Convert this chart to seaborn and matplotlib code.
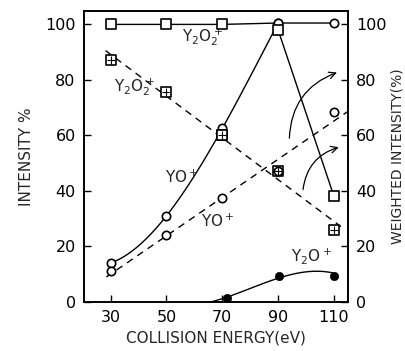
import numpy as np
import pandas as pd
import seaborn as sns
import matplotlib
matplotlib.use("Agg")
import matplotlib.pyplot as plt

# ---- data ----
energy = [30, 50, 70, 90, 110]

# solid top line (Y2O2+ weighted) at 100
top_sq_x = [30, 50, 70]
top_sq_y = [100, 100, 100]
top_ci_x = [90, 110]
top_ci_y = [100.5, 100.5]

# solid YO+ curve (circles)
yo_solid_x = [30, 50, 70, 90]
yo_solid_y = [14, 31, 62.5, 100.5]

# solid squares (weighted) 70, 90, 110
wsq_x = [70, 90, 110]
wsq_y = [60, 98, 38]

# dashed Y2O2+ (squares)
y2o2_dash = [87, 75.5, 60, 47, 26]
y2o2_span = [28.2, 112.5]
# dashed YO+ (circles)
yo_dash = [11, 24, 37.5, 47, 68.5]
yo_span = [28.5, 115]

# Y2O+ (filled circles)
y2o_x = [71.6, 90.4, 110]
y2o_y = [1.4, 9.4, 9.4]
y2o_curve_x = [65, 72, 80, 90, 100, 110]
y2o_curve_y = [0, 1.3, 5.0, 9.0, 10.3, 10.5]

yticks = [0, 20, 40, 60, 80, 100]

sns.set_theme(style="ticks")
plt.rcParams["font.family"] = ["DejaVu Sans"]
plt.rcParams["mathtext.fontset"] = "dejavusans"

fig = plt.figure(figsize=(4.06, 3.51), dpi=100)
ax = fig.add_axes([0.207, 0.140, 0.650, 0.830])
ax.set_xlim(20.5, 115)
ax.set_ylim(0, 105)

k = "black"
ms_c = 6
ms_s = 6.5

# top line
sns.lineplot(x=top_sq_x + top_ci_x, y=top_sq_y + top_ci_y, ax=ax, color=k, lw=1.0)
sns.scatterplot(x=top_sq_x, y=top_sq_y, ax=ax, marker="s", s=ms_s**2, facecolor="white", edgecolor=k, linewidth=1.2, zorder=5)
sns.scatterplot(x=top_ci_x, y=top_ci_y, ax=ax, marker="o", s=ms_c**2, facecolor="white", edgecolor=k, linewidth=1.2, zorder=5)

# solid YO+ curve
sns.regplot(x=yo_solid_x, y=yo_solid_y, order=3, ci=None, scatter=False, truncate=True, ax=ax,
            line_kws=dict(color=k, lw=1.0))
sns.scatterplot(x=yo_solid_x, y=yo_solid_y, ax=ax, marker="o", s=ms_c**2, facecolor="white", edgecolor=k, linewidth=1.2, zorder=5)

# solid weighted squares and descending segment
sns.lineplot(x=wsq_x[1:], y=wsq_y[1:], ax=ax, color=k, lw=1.0)
sns.scatterplot(x=wsq_x, y=wsq_y, ax=ax, marker="s", s=ms_s**2, facecolor="white", edgecolor=k, linewidth=1.2, zorder=5)

# dashed lines (least squares fits)
for vals, span, mk in [(y2o2_dash, y2o2_span, "s"), (yo_dash, yo_span, "o")]:
    p = np.polyfit(energy, vals, 1)
    sns.lineplot(x=span, y=np.polyval(p, span), ax=ax, color=k, lw=1.0,
                 linestyle=(0, (5, 4)))
    sns.scatterplot(x=energy, y=vals, ax=ax, marker=mk, s=(ms_s if mk == "s" else ms_c)**2,
                    facecolor="white", edgecolor=k, linewidth=1.2, zorder=5)
    if mk == "s":
        sns.scatterplot(x=energy, y=vals, ax=ax, marker="+", s=30, color=k, linewidth=0.8, zorder=6)

# Y2O+
sns.regplot(x=y2o_curve_x, y=y2o_curve_y, order=3, ci=None, scatter=False, truncate=True, ax=ax,
            line_kws=dict(color=k, lw=1.0))
sns.scatterplot(x=y2o_x, y=y2o_y, ax=ax, marker="o", s=ms_c**2, color=k, edgecolor=k, zorder=5)

# curved arrows
for (x0, y0), (x1, y1) in [((94, 58), (112, 83)), ((98.8, 39.5), (112.7, 56))]:
    ax.annotate("", xy=(x1, y1), xytext=(x0, y0),
                arrowprops=dict(arrowstyle="->", color=k, lw=0.9,
                                connectionstyle="arc3,rad=-0.35"))

# labels
fs = 11
ax.text(63, 95.5, r"Y$_2$O$_2^+$", fontsize=fs, ha="center", va="center")
ax.text(38.5, 77.5, r"Y$_2$O$_2^+$", fontsize=fs, ha="center", va="center")
ax.text(55.5, 45, r"YO$^+$", fontsize=fs, ha="center", va="center")
ax.text(68.5, 29, r"YO$^+$", fontsize=fs, ha="center", va="center")
ax.text(102, 16.5, r"Y$_2$O$^+$", fontsize=fs, ha="center", va="center")

ax.set_xticks(energy)
ax.set_yticks(yticks)
ax.tick_params(direction="in", length=5, width=1.0, labelsize=11.5, pad=6, color=k, labelcolor=k)
ax.set_xlabel("COLLISION ENERGY(eV)", fontsize=11, labelpad=4)
ax.set_ylabel("INTENSITY %", fontsize=11, labelpad=8)

ax2 = ax.twinx()
ax2.set_ylim(0, 105)
ax2.set_yticks(yticks)
ax2.tick_params(direction="in", length=5, width=1.0, labelsize=11.5, pad=6, color=k, labelcolor=k)
ax2.set_ylabel("WEIGHTED INTENSITY(%)", fontsize=10, labelpad=3)

for a in (ax, ax2):
    for s in a.spines.values():
        s.set_visible(True)
        s.set_linewidth(1.2)
        s.set_color(k)

fig.savefig("out.png", dpi=100)
